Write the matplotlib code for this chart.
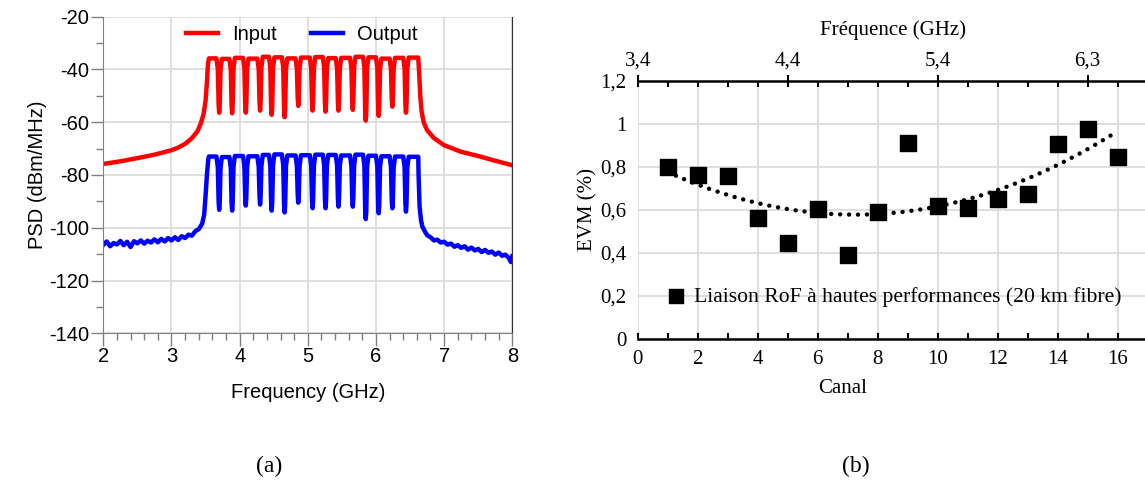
import numpy as np
import matplotlib
matplotlib.use("Agg")
import matplotlib.pyplot as plt
from matplotlib.ticker import MultipleLocator, FixedLocator

plt.rcParams["axes.unicode_minus"] = False

# ---- (a) spectre d'entrée / sortie ----
# notches between the 16 channels
notch_f = [3.70, 3.89, 4.09, 4.30, 4.47, 4.66, 4.86, 5.07, 5.26, 5.45, 5.66, 5.85, 6.04, 6.24, 6.44]
in_notch_db = [-56.4, -56.6, -56.4, -55.6, -57.2, -58.1, -53.8, -55.6, -56.0, -55.6, -55.3, -59.4, -57.6, -54.1, -56.4]
out_notch_db = [-93.2, -93.5, -91.6, -91.2, -93.5, -94.2, -90.5, -92.6, -92.6, -92.0, -92.0, -96.7, -94.5, -92.6, -93.9]
in_top_db = [-35.8, -36.0, -35.6, -35.9, -35.2, -35.4, -35.8, -35.5, -35.3, -35.7, -35.6, -35.2, -35.4, -35.9, -35.6, -35.5]
out_top_db = [-73.0, -73.2, -72.8, -72.9, -72.4, -72.2, -72.6, -72.5, -72.3, -72.4, -72.6, -72.3, -72.7, -72.9, -73.0, -73.1]
band_edges = [3.55, 6.62]

in_left_f = [2.0, 2.25, 2.5, 2.75, 3.0, 3.1, 3.2, 3.3, 3.38, 3.43, 3.47, 3.50, 3.52, 3.535]
in_left_db = [-75.8, -74.8, -73.6, -72.3, -70.6, -69.6, -68.2, -66.0, -63.5, -60.5, -57.0, -52.0, -45.0, -38.0]
in_right_f = [6.635, 6.65, 6.67, 6.70, 6.75, 6.85, 7.0, 7.25, 7.5, 7.75, 8.0]
in_right_db = [-42.0, -50.0, -56.0, -60.0, -63.0, -66.0, -68.7, -71.2, -72.8, -74.6, -76.3]

out_left_f = [2.00, 2.05, 2.10, 2.15, 2.20, 2.25, 2.30, 2.35, 2.40, 2.45, 2.50, 2.55, 2.60, 2.65,
              2.70, 2.75, 2.80, 2.85, 2.90, 2.95, 3.00, 3.05, 3.10, 3.15, 3.20, 3.25, 3.30, 3.35,
              3.40, 3.45, 3.48, 3.50, 3.52, 3.54]
out_left_db = [-106.5, -105.2, -107.0, -105.8, -106.3, -105.0, -106.6, -105.3, -107.3, -105.1, -105.9, -104.8,
               -106.0, -104.9, -105.6, -104.4, -105.5, -104.2, -105.2, -103.9, -104.8, -103.6, -104.6, -103.2,
               -103.9, -102.6, -103.0, -101.3, -100.5, -98.5, -95.0, -88.0, -80.0, -74.0]
out_right_f = [6.625, 6.64, 6.66, 6.68, 6.72, 6.75, 6.80, 6.85, 6.90, 6.95, 7.00, 7.05, 7.10, 7.15, 7.20,
               7.25, 7.30, 7.35, 7.40, 7.45, 7.50, 7.55, 7.60, 7.65, 7.70, 7.75, 7.80, 7.85, 7.90,
               7.95, 7.98, 8.00]
out_right_db = [-80.0, -92.0, -97.0, -99.5, -101.5, -102.8, -103.6, -104.8, -104.5, -105.6, -105.3, -106.4,
                -106.0, -107.2, -106.6, -107.6, -107.0, -108.3, -107.5, -108.6, -108.0, -109.2, -108.4,
                -109.5, -109.0, -110.2, -109.4, -110.6, -110.2, -111.5, -113.0, -110.8]

# ---- (b) EVM ----
canal = [1, 2, 3, 4, 5, 6, 7, 8, 9, 10, 11, 12, 13, 14, 15, 16]
evm = [0.80, 0.76, 0.755, 0.56, 0.445, 0.605, 0.39, 0.59, 0.91, 0.62, 0.61, 0.65, 0.675, 0.905, 0.975, 0.845]
evm_ticks = [0, 0.2, 0.4, 0.6, 0.8, 1.0, 1.2]
evm_labels = ["0", "0,2", "0,4", "0,6", "0,8", "1", "1,2"]
freq_ticks = [0, 5, 10, 15]
freq_labels = ["3,4", "4,4", "5,4", "6,3"]


def build_trace(left_f, left_db, tops, notches, depths, right_f, right_db):
    """assemble la trace: flanc gauche, canaux avec creux, flanc droit"""
    f = list(left_f)
    p = list(left_db)
    f.append(band_edges[0]); p.append(tops[0])
    for i, (c, d) in enumerate(zip(notches, depths)):
        f += [c - 0.04, c - 0.02, c - 0.008, c, c + 0.008, c + 0.02, c + 0.04]
        p += [tops[i], tops[i] - 4, d + 3, d, d + 3, tops[i + 1] - 4, tops[i + 1]]
    f.append(band_edges[1]); p.append(tops[-1])
    f += right_f
    p += right_db
    return f, p


fig = plt.figure(figsize=(11.45, 4.9), dpi=100)

# ---------- panel (a) ----------
sans = ["Liberation Sans", "DejaVu Sans"]
fs_a = 14.5
ax1 = fig.add_axes([103.3 / 1145, 1 - 333.3 / 490, 409 / 1145, 316.6 / 490])
fin, pin = build_trace(in_left_f, in_left_db, in_top_db, notch_f, in_notch_db, in_right_f, in_right_db)
fout, pout = build_trace(out_left_f, out_left_db, out_top_db, notch_f, out_notch_db, out_right_f, out_right_db)
ax1.plot(fin, pin, color="#ff0000", lw=3.2, label="Input", solid_joinstyle="round")
ax1.plot(fout, pout, color="#0000ff", lw=3.2, label="Output", solid_joinstyle="round")
ax1.set_xlim(2, 8)
ax1.set_ylim(-140, -20)
ax1.xaxis.set_major_locator(MultipleLocator(1))
ax1.xaxis.set_minor_locator(MultipleLocator(0.2))
ax1.yaxis.set_major_locator(MultipleLocator(20))
ax1.yaxis.set_minor_locator(MultipleLocator(10))
ax1.grid(True, which="major", color="#d9d9d9", lw=1.2)
ax1.set_axisbelow(True)
ax1.spines["top"].set_visible(False)
ax1.spines["left"].set_color("#808080")
ax1.spines["bottom"].set_color("#808080")
ax1.spines["right"].set_color("#303030")
ax1.tick_params(which="major", direction="out", length=9, width=1, color="#808080", labelsize=fs_a, pad=1)
ax1.tick_params(which="minor", direction="out", length=5, width=1, color="#808080")
for lab in ax1.get_xticklabels() + ax1.get_yticklabels():
    lab.set_family(sans)
ax1.set_xlabel("Frequency (GHz)", family=sans, fontsize=fs_a, labelpad=12)
ax1.set_ylabel("PSD (dBm/MHz)", family=sans, fontsize=fs_a, labelpad=2)
ax1.legend(loc="upper center", bbox_to_anchor=(0.485, 1.03), ncol=2, frameon=False,
           prop={"family": sans, "size": fs_a}, handlelength=1.6, columnspacing=1.7, handletextpad=0.7)

# ---------- panel (b) ----------
serif = ["Liberation Serif", "DejaVu Serif"]
fs_b = 15
ax2 = fig.add_axes([637.7 / 1145, 1 - 339 / 490, (1145 - 637.7) / 1145, 258.3 / 490])
coef = np.polyfit(canal, evm, 2)
xs = np.linspace(canal[0], canal[-1], 200)
ax2.plot(xs, np.polyval(coef, xs), color="black", lw=3.2, linestyle=(0, (0.01, 2.0)),
         dash_capstyle="round", zorder=2)
ax2.scatter(canal, evm, marker="s", s=140, color="black", zorder=3,
            label="Liaison RoF à hautes performances (20 km fibre)")
ax2.set_xlim(0, (1145 - 637.7) / 30)
ax2.set_ylim(0, 1.2)
ax2.xaxis.set_major_locator(FixedLocator(list(range(0, 17, 2))))
ax2.xaxis.set_minor_locator(FixedLocator(list(range(0, 17))))
ax2.set_yticks(evm_ticks)
ax2.set_yticklabels(evm_labels)
ax2.grid(True, which="major", color="#d9d9d9", lw=1.2)
ax2.set_axisbelow(True)
for s in ["top", "left", "right"]:
    ax2.spines[s].set_visible(False)
ax2.spines["bottom"].set_linewidth(1.8)
ax2.tick_params(axis="x", which="both", direction="in", length=4, width=1.5, labelsize=fs_b, pad=8)
ax2.tick_params(axis="y", which="both", length=0, labelsize=fs_b, pad=8)
for lab in ax2.get_xticklabels() + ax2.get_yticklabels():
    lab.set_family(serif)
ax2.set_ylabel("EVM (%)", family=serif, fontsize=fs_b, labelpad=2)
ax2.text(6.84, -0.23, "Canal", family=serif, fontsize=fs_b, ha="center", va="center",
         transform=ax2.transData)
ax2.legend(loc="center left", bbox_to_anchor=(0.012, 0.163), frameon=False,
           prop={"family": serif, "size": 15.6}, handletextpad=-0.2, borderpad=0, markerscale=0.8)

ax3 = ax2.twiny()
ax3.set_xlim(ax2.get_xlim())
ax3.spines["top"].set_position(("data", 1.2))
for s in ["bottom", "left", "right"]:
    ax3.spines[s].set_visible(False)
ax3.spines["top"].set_linewidth(1.8)
ax3.xaxis.set_major_locator(FixedLocator(freq_ticks))
ax3.xaxis.set_minor_locator(FixedLocator(list(range(0, 17))))
ax3.set_xticklabels(freq_labels)
ax3.tick_params(which="major", direction="inout", length=8, width=1.5, labelsize=fs_b, pad=3)
ax3.tick_params(which="minor", direction="in", length=4, width=1.5)
for lab in ax3.get_xticklabels():
    lab.set_family(serif)
ax3.set_xlabel("Fréquence (GHz)", family=serif, fontsize=fs_b)
ax3.xaxis.set_label_coords((893 - 637.7) / (1145 - 637.7), 1.175)

# panel labels
fig.text(269 / 1145, 1 - 466 / 490, "(a)", family=serif, fontsize=17, ha="center", va="center")
fig.text(856 / 1145, 1 - 466 / 490, "(b)", family=serif, fontsize=17, ha="center", va="center")

fig.savefig("out.png", dpi=100)
